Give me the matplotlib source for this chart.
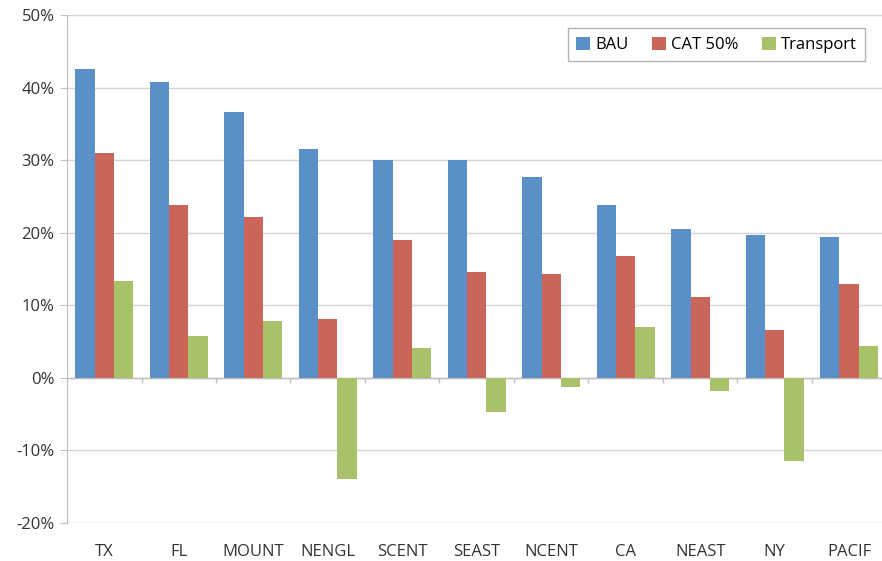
import matplotlib.pyplot as plt
import numpy as np
from matplotlib.ticker import PercentFormatter

# regions and the three scenarios (fraction change)
regions = ["TX", "FL", "MOUNT", "NENGL", "SCENT", "SEAST", "NCENT", "CA", "NEAST", "NY", "PACIF"]
bau = [0.426, 0.408, 0.366, 0.315, 0.300, 0.300, 0.277, 0.238, 0.205, 0.197, 0.194]
cat50 = [0.310, 0.238, 0.222, 0.081, 0.190, 0.146, 0.143, 0.168, 0.112, 0.066, 0.129]
transport = [0.134, 0.058, 0.079, -0.140, 0.041, -0.047, -0.012, 0.070, -0.018, -0.114, 0.044]

plt.rcParams['font.family'] = ['Open Sans', 'DejaVu Sans']
plt.rcParams['axes.unicode_minus'] = False

fig = plt.figure(figsize=(8.82, 5.61), dpi=100)
ax = fig.add_axes([0.076, 0.0677, 0.929, 0.9053])

x = np.arange(len(regions))
w = 0.26
ax.bar(x - w, bau, w, color="#5B8FC7", label="BAU", zorder=3)
ax.bar(x, cat50, w, color="#CB6459", label="CAT 50%", zorder=3)
ax.bar(x + w, transport, w, color="#A8C26A", label="Transport", zorder=3)

ax.set_xlim(-0.5, len(regions) - 0.5)
ax.set_ylim(-0.2, 0.5)
ax.set_yticks(np.arange(-0.2, 0.51, 0.1))
ax.yaxis.set_major_formatter(PercentFormatter(1.0, decimals=0))
ax.grid(axis="y", color="#D4D4D4", linewidth=1, zorder=0)

# category axis line at zero with boundary tick marks
ax.axhline(0, color="#BFBFBF", linewidth=1, zorder=2)
ax.vlines(x[:-1] + 0.5, -0.007, 0, color="#BFBFBF", linewidth=1, zorder=2)

ax.set_xticks(x)
ax.set_xticklabels(regions)
ax.tick_params(axis="x", length=0, pad=15, labelsize=12, colors="#333333")
ax.tick_params(axis="y", length=5, color="#BFBFBF", labelsize=12, colors="#333333", pad=4)
for s in ["top", "right", "bottom"]:
    ax.spines[s].set_visible(False)
ax.spines["left"].set_color("#BFBFBF")

leg = ax.legend(loc="upper right", bbox_to_anchor=(0.974, 0.974), borderaxespad=0,
                ncol=3, fontsize=12, frameon=True, fancybox=False,
                handlelength=0.85, handleheight=0.85, handletextpad=0.3,
                columnspacing=1.4, borderpad=0.5)
leg.get_frame().set_edgecolor("#A0A0A0")
leg.get_frame().set_linewidth(1)

fig.savefig("out.png", dpi=100)
